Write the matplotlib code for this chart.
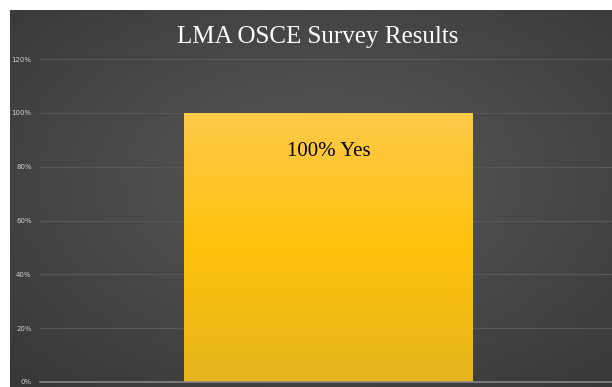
import matplotlib

matplotlib.use("Agg")
import matplotlib.pyplot as plt
import numpy as np

categories = ["Yes"]
values = [100]
bar_labels = ["100% Yes"]
y_ticks = [0, 20, 40, 60, 80, 100, 120]
title = "LMA OSCE Survey Results"

fig = plt.figure(figsize=(6.12, 3.87), dpi=100)
fig.patch.set_facecolor("white")

# dark panel with soft radial gradient
bg = fig.add_axes([10 / 612, 0, 602 / 612, 377 / 387])
bg.set_axis_off()
yy, xx = np.mgrid[0:1:200j, 0:1:300j]
r = np.sqrt(((xx - 0.52) / 0.9) ** 2 + ((yy - 0.45) / 0.9) ** 2)
shade = np.clip(0.35 - 0.16 * r, 0.19, 0.35)
bg.imshow(np.dstack([shade] * 3), aspect="auto", extent=[0, 1, 0, 1])

ax = fig.add_axes([40 / 612, 5 / 387, 572 / 612, 323 / 387])
ax.patch.set_alpha(0)

x = np.arange(len(categories))
bars = ax.bar(x, values, width=0.505, color="#FFC000", zorder=2)
for b in bars:
    grad = np.linspace(0, 1, 256).reshape(-1, 1)
    top = np.array([1.0, 0.79, 0.29])
    mid = np.array([1.0, 0.76, 0.05])
    bot = np.array([0.90, 0.71, 0.11])
    cols = np.where(grad < 0.5, top + (mid - top) * (grad / 0.5), mid + (bot - mid) * ((grad - 0.5) / 0.5))
    img = ax.imshow(cols.reshape(256, 1, 3), aspect="auto",
                    extent=[b.get_x(), b.get_x() + b.get_width(), 0, b.get_height()], zorder=3)
    img.set_clip_path(b)
ax.set_xlim(-0.505, 0.495)
ax.set_ylim(0, 120)

for xi, v, lab in zip(x, values, bar_labels):
    ax.text(xi, v - 14.5, lab, ha="center", va="center", fontsize=15,
            family="Liberation Serif", color="black", zorder=4)

ax.set_yticks(y_ticks)
ax.set_yticklabels([f"{t}%" for t in y_ticks], fontsize=5, color="#d0d0d0")
ax.tick_params(axis="y", length=0, pad=6)
ax.set_xticks([])
ax.grid(axis="y", color="#575757", linewidth=0.9, zorder=0)
for s in ["top", "right", "left"]:
    ax.spines[s].set_visible(False)
ax.spines["bottom"].set_color("#858585")
ax.spines["bottom"].set_linewidth(1.2)
ax.spines["bottom"].set_zorder(5)

fig.text(318 / 612, 1 - 37 / 387, title, ha="center", va="center", fontsize=18,
         family="Liberation Serif", color="white")

fig.savefig("out.png", dpi=100)
